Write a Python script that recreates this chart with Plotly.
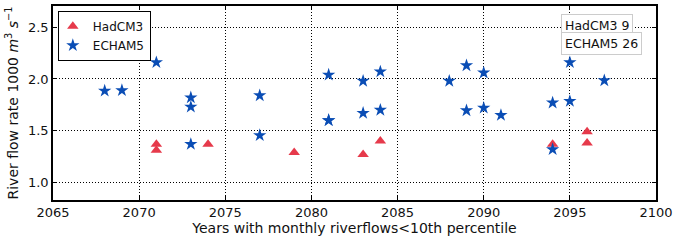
import plotly.graph_objects as go

# HadCM3 (triangles)
had_years = [2071, 2071, 2074, 2079, 2083, 2084, 2094, 2096, 2096]
had_flow = [1.37, 1.31, 1.37, 1.29, 1.27, 1.40, 1.37, 1.49, 1.38]

# ECHAM5 (stars)
ech_years = [2068, 2069, 2071, 2073, 2073, 2073, 2077, 2077, 2081, 2081, 2081,
             2083, 2083, 2084, 2084, 2088, 2089, 2089, 2090, 2090, 2091,
             2094, 2094, 2095, 2095, 2097]
ech_flow = [1.885, 1.89, 2.16, 1.82, 1.73, 1.37, 1.84, 1.455, 2.04, 1.60, 1.60,
            1.98, 1.67, 2.07, 1.70, 1.98, 2.13, 1.695, 2.06, 1.72, 1.65,
            1.77, 1.32, 2.16, 1.785, 1.985]

x_ticks = [2065, 2070, 2075, 2080, 2085, 2090, 2095, 2100]
y_ticks = [1.0, 1.5, 2.0, 2.5]

RED = "#e63a4b"
BLUE = "#0a4db5"
FONT = "DejaVu Sans"

fig = go.Figure()
fig.add_trace(go.Scatter(x=had_years, y=had_flow, mode="markers", name="HadCM3",
                         marker=dict(symbol="triangle-up", size=10, color=RED,
                                     line=dict(width=0))))
fig.add_trace(go.Scatter(x=ech_years, y=ech_flow, mode="markers", name="ECHAM5",
                         marker=dict(symbol="star", size=10, color=BLUE,
                                     line=dict(width=0))))

axis_common = dict(showline=True, linecolor="black", linewidth=1.5, mirror="ticks",
                   ticks="inside", ticklen=4, tickcolor="black",
                   showgrid=True, gridcolor="black", griddash="1px,2px", gridwidth=1,
                   zeroline=False, tickfont=dict(family=FONT, size=13, color="#111"))

fig.update_xaxes(range=[2065, 2100], tickvals=x_ticks,
                 title=dict(text="Years with monthly riverflows<10th percentile",
                            font=dict(family=FONT, size=14, color="#111"), standoff=4),
                 **axis_common)
fig.update_yaxes(range=[0.83, 2.705], tickvals=y_ticks, tickformat=".1f",
                 title=dict(text="River flow rate 1000 <i>m</i><sup>3</sup> <i>s</i><sup>−1</sup>",
                            font=dict(family=FONT, size=14, color="#111"), standoff=6),
                 **axis_common)

fig.add_annotation(x=0.843, y=0.957, xref="paper", yref="paper", xanchor="left", yanchor="top",
                   text="HadCM3 9", showarrow=False, bordercolor="#cccccc", borderwidth=1,
                   borderpad=3, bgcolor="white", font=dict(family=FONT, size=12.5, color="#111"))
fig.add_annotation(x=0.843, y=0.865, xref="paper", yref="paper", xanchor="left", yanchor="top",
                   text="ECHAM5 26", showarrow=False, bordercolor="#cccccc", borderwidth=1,
                   borderpad=3, bgcolor="white", font=dict(family=FONT, size=12.5, color="#111"))

fig.update_layout(
    width=677, height=240,
    margin=dict(l=53, r=19, t=4, b=40),
    paper_bgcolor="white", plot_bgcolor="white",
    font=dict(family=FONT, color="#111"),
    showlegend=True,
    legend=dict(x=0.008, y=0.975, xanchor="left", yanchor="top",
                bordercolor="black", borderwidth=1, bgcolor="white",
                font=dict(family=FONT, size=12, color="#111"),
                itemwidth=30, tracegroupgap=0, indentation=-6),
)

fig.write_html("out.html", config={"displayModeBar": False},
               post_script="document.body.style.margin='0';document.body.style.padding='0';")
